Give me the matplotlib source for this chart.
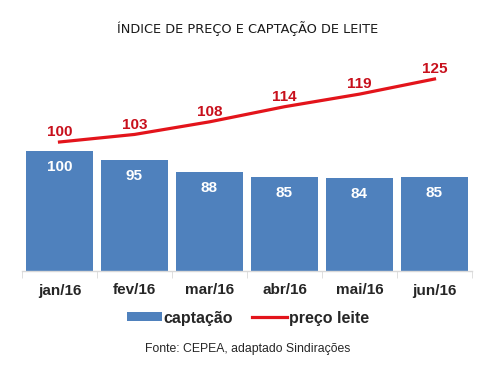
import matplotlib
matplotlib.use("Agg")
import matplotlib.pyplot as plt
import numpy as np
from matplotlib.patches import Patch
from matplotlib.lines import Line2D

categories = ["jan/16", "fev/16", "mar/16", "abr/16", "mai/16", "jun/16"]
captacao = [100, 95, 88, 85, 84, 85]
preco = [100, 103, 108, 114, 119, 125]

W, H = 496, 365
fig = plt.figure(figsize=(W / 100, H / 100), dpi=100)
fig.patch.set_facecolor("white")

ax_left, ax_right = 22, 472
ax_top, ax_bot = 55, 271
ax = fig.add_axes([ax_left / W, 1 - ax_bot / H, (ax_right - ax_left) / W, (ax_bot - ax_top) / H])
x = np.arange(len(categories))
ymin = 30
scale = (ax_bot - 151) / (100 - ymin)
ax.bar(x, [v - ymin for v in captacao], bottom=ymin, width=0.9, color="#4F81BD", zorder=2)
ax.set_xlim(-0.5, len(categories) - 0.5)
ax.set_ylim(ymin, ymin + (ax_bot - ax_top) / scale)
ax.set_yticks([])
for s in ["top", "right", "left"]:
    ax.spines[s].set_visible(False)
ax.spines["bottom"].set_color("#D9D9D9")
ax.spines["bottom"].set_linewidth(1)
ax.set_xticks(x)
ax.set_xticklabels(categories, fontfamily="Liberation Sans", fontweight="bold", fontsize=11, color="#262626")
ax.tick_params(axis="x", length=0, pad=9)
ax.set_xticks(np.arange(-0.5, len(categories)), minor=True)
ax.tick_params(axis="x", which="minor", length=5, color="#D9D9D9")
for xi, v in zip(x, captacao):
    ax.annotate(str(v), (xi, v), xytext=(0, -11.5), textcoords="offset points",
                ha="center", va="center", color="white", fontweight="bold",
                fontfamily="Liberation Sans", fontsize=11)

ax2 = ax.twinx()
lo = 100 - (ax_bot - 142) / 2.52
hi = 125 + (79 - ax_top) / 2.52
ax2.set_ylim(lo, hi)
ax2.plot(x, preco, color="#E3141B", linewidth=2.3, zorder=3)
ax2.set_yticks([])
for s in ["top", "right", "left", "bottom"]:
    ax2.spines[s].set_visible(False)
for xi, v in zip(x, preco):
    ax2.annotate(str(v), (xi, v), xytext=(0, 7), textcoords="offset points",
                 ha="center", va="center", color="#C8101C", fontweight="bold",
                 fontfamily="Liberation Sans", fontsize=11)

fig.text(0.5, 1 - 29 / H, "ÍNDICE DE PREÇO E CAPTAÇÃO DE LEITE", ha="center", va="center",
         fontfamily="DejaVu Sans", fontsize=9.3, color="#1a1a1a")

handles = [Patch(facecolor="#4F81BD", edgecolor="none"),
           Line2D([0], [0], color="#E3141B", linewidth=2.3)]
leg = fig.legend(handles, ["captação", "preço leite"], loc="center", bbox_to_anchor=(0.5, 1 - 318 / H),
                 ncol=2, frameon=False, handlelength=2.2, handleheight=0.5, handletextpad=0.1,
                 columnspacing=1.2,
                 prop={"family": "Liberation Sans", "weight": "bold", "size": 11.5})
for t in leg.get_texts():
    t.set_color("#262626")

fig.text(0.5, 1 - 349 / H, "Fonte: CEPEA, adaptado Sindirações", ha="center", va="center",
         fontfamily="Liberation Sans", fontsize=8.8, color="#262626")

fig.savefig("out.png", dpi=100)
